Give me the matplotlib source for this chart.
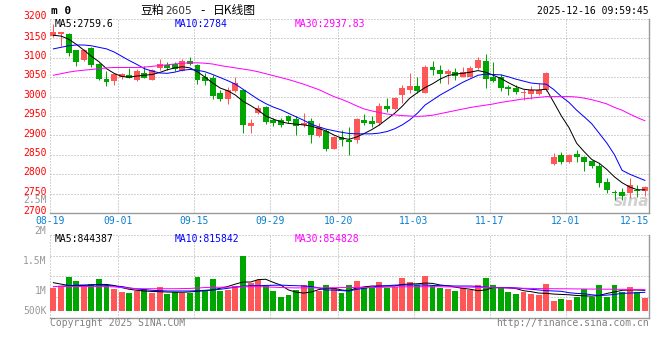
import matplotlib
matplotlib.use("Agg")
import matplotlib.pyplot as plt
from matplotlib.transforms import blended_transform_factory, offset_copy
import numpy as np

W, H = 660, 360

# ---------------- data ----------------
dates = ["08-19", "08-20", "08-21", "08-22", "08-25", "08-26", "08-27", "08-28", "08-29",
         "09-01", "09-02", "09-03", "09-04", "09-05", "09-08", "09-09", "09-10", "09-11", "09-12",
         "09-15", "09-16", "09-17", "09-18", "09-19", "09-22", "09-23", "09-24", "09-25", "09-26",
         "09-29", "09-30", "10-09", "10-10", "10-13", "10-14", "10-15", "10-16", "10-17",
         "10-20", "10-21", "10-22", "10-23", "10-24", "10-27", "10-28", "10-29", "10-30", "10-31",
         "11-03", "11-04", "11-05", "11-06", "11-07", "11-10", "11-11", "11-12", "11-13", "11-14",
         "11-17", "11-18", "11-19", "11-20", "11-21", "11-24", "11-25", "11-26", "11-27", "11-28",
         "12-01", "12-02", "12-03", "12-04", "12-05", "12-08", "12-09", "12-10", "12-11", "12-12",
         "12-15"]

opens = [3156, 3161, 3161, 3120, 3094, 3126, 3083, 3045, 3041, 3050,
         3055, 3044, 3062, 3044, 3073, 3081, 3084, 3067, 3092, 3081,
         3050, 3047, 3010, 2995, 3015, 3017, 2924, 2958, 2974, 2940,
         2940, 2950, 2941, 2928, 2937, 2899, 2911, 2865, 2897, 2888,
         2888, 2940, 2938, 2931, 2976, 2968, 3004, 3017, 3027, 3010,
         3077, 3069, 3058, 3063, 3051, 3051, 3073, 3092, 3051, 3051,
         3026, 3023, 3010, 3006, 3007, 3017, 2826, 2850, 2831, 2851,
         2845, 2834, 2822, 2781, 2755, 2753, 2752, 2759, 2756]
highs = [3188, 3167, 3163, 3121, 3122, 3129, 3086, 3067, 3061, 3062,
         3073, 3070, 3079, 3071, 3098, 3088, 3090, 3097, 3101, 3085,
         3060, 3055, 3017, 3026, 3050, 3019, 2941, 2978, 2976, 2946,
         2946, 2953, 2950, 2959, 2944, 2931, 2916, 2899, 2914, 2921,
         2944, 2955, 2950, 2983, 2996, 3000, 3030, 3060, 3051, 3081,
         3092, 3081, 3070, 3073, 3077, 3079, 3103, 3110, 3090, 3057,
         3030, 3030, 3019, 3028, 3034, 3064, 2854, 2858, 2852, 2862,
         2847, 2837, 2828, 2789, 2759, 2764, 2789, 2772, 2770]
lows = [3154, 3131, 3105, 3079, 3092, 3077, 3044, 3027, 3030, 3046,
        3047, 3040, 3047, 3042, 3069, 3068, 3065, 3065, 3082, 3032,
        3030, 2995, 2989, 2981, 3012, 2907, 2907, 2954, 2929, 2924,
        2921, 2931, 2901, 2921, 2881, 2895, 2861, 2864, 2873, 2850,
        2880, 2927, 2921, 2927, 2961, 2966, 2983, 3010, 3010, 3008,
        3056, 3034, 3032, 3043, 3051, 3050, 3070, 3021, 3038, 3014,
        3004, 3006, 2990, 2993, 3004, 3015, 2824, 2826, 2828, 2832,
        2809, 2816, 2768, 2752, 2734, 2734, 2738, 2742, 2744]
closes = [3166, 3166, 3113, 3090, 3120, 3081, 3045, 3038, 3057, 3058,
          3049, 3067, 3049, 3068, 3084, 3075, 3070, 3092, 3084, 3044,
          3041, 3001, 2993, 3017, 3036, 2927, 2933, 2970, 2935, 2931,
          2927, 2937, 2923, 2931, 2901, 2921, 2864, 2897, 2888, 2884,
          2941, 2931, 2929, 2976, 2968, 2996, 3021, 3027, 3014, 3077,
          3069, 3058, 3067, 3054, 3063, 3075, 3094, 3045, 3041, 3023,
          3019, 3013, 3013, 3017, 3017, 3060, 2845, 2832, 2850, 2845,
          2832, 2820, 2777, 2759, 2752, 2745, 2771, 2757, 2766]

ma5 = [3158, 3156, 3148, 3135, 3120, 3104, 3090, 3072, 3060, 3052,
       3050, 3053, 3055, 3057, 3062, 3069, 3074, 3077, 3074, 3064,
       3050, 3035, 3022, 3015, 3004, 2988, 2977, 2965, 2950, 2942,
       2935, 2931, 2929, 2927, 2924, 2918, 2911, 2901, 2893, 2890,
       2896, 2905, 2915, 2927, 2942, 2957, 2975, 2996, 3010, 3023,
       3033, 3045, 3054, 3058, 3060, 3063, 3067, 3063, 3055, 3047,
       3036, 3026, 3019, 3017, 3017, 3019, 2985, 2950, 2920, 2880,
       2858, 2838, 2828, 2812, 2793, 2778, 2767, 2760, 2759.6]
ma10 = [3123, 3127, 3131, 3133, 3133, 3131, 3127, 3123, 3115, 3104,
        3093, 3083, 3072, 3066, 3061, 3060, 3063, 3068, 3070, 3068,
        3064, 3057, 3049, 3041, 3032, 3019, 3006, 2993, 2982, 2973,
        2966, 2957, 2948, 2939, 2929, 2922, 2916, 2912, 2908, 2905,
        2904, 2904, 2904, 2906, 2910, 2917, 2927, 2940, 2957, 2978,
        2991, 3004, 3015, 3026, 3037, 3046, 3055, 3058, 3057, 3056,
        3051, 3045, 3040, 3035, 3033, 3032, 3018, 3000, 2985, 2965,
        2948, 2930, 2905, 2880, 2850, 2810, 2800, 2792, 2784]
ma30 = [3055, 3059, 3063, 3066, 3068, 3070, 3072, 3074, 3075, 3075,
        3075, 3075, 3076, 3078, 3080, 3082, 3084, 3086, 3087, 3087,
        3086, 3084, 3080, 3077, 3074, 3071, 3068, 3064, 3059, 3054,
        3049, 3044, 3038, 3032, 3025, 3018, 3009, 3000, 2993, 2985,
        2976, 2968, 2963, 2959, 2955, 2953, 2951, 2950, 2949, 2950,
        2952, 2956, 2960, 2964, 2968, 2972, 2975, 2978, 2981, 2985,
        2988, 2991, 2994, 2996, 2998, 3000, 3000, 3000, 3000, 2999,
        2996, 2992, 2987, 2981, 2972, 2965, 2955, 2946, 2937.83]

volumes = [878e3, 893e3, 1038e3, 980e3, 886e3, 936e3, 1009e3, 907e3, 864e3, 820e3,
           801e3, 835e3, 864e3, 810e3, 897e3, 791e3, 825e3, 810e3, 810e3, 1042e3,
           839e3, 1009e3, 839e3, 849e3, 912e3, 1342e3, 947e3, 994e3, 912e3, 839e3,
           752e3, 777e3, 849e3, 922e3, 980e3, 839e3, 922e3, 883e3, 810e3, 922e3,
           980e3, 883e3, 883e3, 961e3, 883e3, 889e3, 1028e3, 970e3, 922e3, 1057e3,
           912e3, 883e3, 864e3, 835e3, 883e3, 849e3, 922e3, 1028e3, 922e3, 883e3,
           825e3, 791e3, 825e3, 791e3, 777e3, 936e3, 690e3, 719e3, 704e3, 748e3,
           868e3, 748e3, 926e3, 748e3, 926e3, 820e3, 893e3, 820e3, 733e3]
vol_ma5 = [955e3, 935e3, 915e3, 912e3, 915e3, 922e3, 930e3, 930e3, 915e3, 885e3,
           860e3, 845e3, 835e3, 828e3, 825e3, 820e3, 818e3, 816e3, 822e3, 830e3,
           840e3, 850e3, 875e3, 900e3, 935e3, 965e3, 965e3, 1000e3, 1005e3, 960e3,
           920e3, 850e3, 818e3, 805e3, 820e3, 855e3, 874e3, 874e3, 850e3, 839e3,
           880e3, 895e3, 907e3, 907e3, 907e3, 907e3, 930e3, 936e3, 940e3, 950e3,
           945e3, 922e3, 910e3, 890e3, 874e3, 860e3, 839e3, 850e3, 885e3, 885e3,
           880e3, 870e3, 839e3, 825e3, 805e3, 801e3, 790e3, 785e3, 780e3, 770e3,
           765e3, 760e3, 770e3, 800e3, 820e3, 845e3, 850e3, 849e3, 844387]
vol_ma10 = [897e3, 905e3, 912e3, 920e3, 922e3, 922e3, 922e3, 915e3, 907e3, 900e3,
            880e3, 864e3, 855e3, 845e3, 840e3, 835e3, 835e3, 835e3, 835e3, 839e3,
            845e3, 850e3, 860e3, 874e3, 890e3, 905e3, 912e3, 912e3, 915e3, 918e3,
            920e3, 915e3, 912e3, 907e3, 900e3, 880e3, 849e3, 849e3, 840e3, 835e3,
            860e3, 874e3, 890e3, 907e3, 912e3, 920e3, 922e3, 922e3, 922e3, 922e3,
            915e3, 912e3, 912e3, 907e3, 907e3, 907e3, 900e3, 890e3, 885e3, 885e3,
            885e3, 880e3, 870e3, 860e3, 850e3, 840e3, 835e3, 830e3, 810e3, 800e3,
            795e3, 780e3, 770e3, 775e3, 785e3, 800e3, 805e3, 810e3, 815842]
vol_ma30 = [900e3, 900e3, 900e3, 900e3, 900e3, 900e3, 900e3, 898e3, 895e3, 885e3,
            875e3, 870e3, 868e3, 868e3, 868e3, 868e3, 868e3, 870e3, 872e3, 878e3,
            885e3, 888e3, 890e3, 890e3, 892e3, 895e3, 897e3, 897e3, 895e3, 890e3,
            885e3, 882e3, 880e3, 880e3, 880e3, 880e3, 880e3, 882e3, 885e3, 885e3,
            885e3, 885e3, 886e3, 888e3, 890e3, 893e3, 895e3, 896e3, 897e3, 897e3,
            897e3, 896e3, 895e3, 894e3, 893e3, 891e3, 888e3, 885e3, 882e3, 880e3,
            878e3, 876e3, 874e3, 872e3, 870e3, 869e3, 868e3, 867e3, 866e3, 865e3,
            864e3, 863e3, 862e3, 861e3, 860e3, 859e3, 857e3, 856e3, 854828]

tick_labels = ["08-19", "09-01", "09-15", "09-29", "10-20", "11-03", "11-17", "12-01", "12-15"]
price_ticks = [3200, 3150, 3100, 3050, 3000, 2950, 2900, 2850, 2800, 2750, 2700]
vol_tick_labels = ["2.5M", "2M", "1.5M", "1M", "500K"]
price_legend = [("MA5:", "2759.6"), ("MA10:", "2784"), ("MA30:", "2937.83")]
vol_legend = [("MA5:", "844387"), ("MA10:", "815842"), ("MA30:", "854828")]
title_parts = ["豆粕", "2605", "-", "日K线图"]

# ---------------- style / layout ----------------
RED = "#ff5757"
GREEN = "#00a600"
GRID = "#a8a8a8"
BORDER = "#999999"
LABEL_RED = "#ff0000"
DATE_BLUE = "#0a7fd0"
GREY_TXT = "#999999"
MONO = "DejaVu Sans Mono"
CJK = ["Noto Sans CJK SC", "DejaVu Sans"]
FS = 7.0
MA_COLORS = ["#000000", "#0000ff", "#ff00ff"]
LEG_X = [55, 175, 295]
VOL_LABEL_Y = [200.3, 230.8, 261.3, 291, 311]
DATE_Y = 221.2
VOL_FLOOR = 545000
DOT = (0, (1, 2))
LW1 = 0.72  # ~1px


def fx(xp):
    return xp / W


def fy(yp):
    return 1 - yp / H


fig = plt.figure(figsize=(W / 100, H / 100), dpi=100)
fig.patch.set_facecolor("white")

L, R = 50, 649
ax = fig.add_axes([fx(L), fy(213), (R - L) / W, (213 - 19) / H])
axv = fig.add_axes([fx(L), fy(318), (R - L) / W, (318 - 234.7) / H])

n = len(closes)
x = np.arange(n) + 0.45
o = np.array(opens, float)
c = np.array(closes, float)
hi = np.array(highs, float)
lo = np.array(lows, float)
up = c >= o
cols = np.where(up, RED, GREEN)

for a in (ax, axv):
    a.set_xlim(0, n)
    a.set_xticks([])
    a.set_yticks([])
    a.set_facecolor("white")
    for s in ("top", "left"):
        a.spines[s].set_visible(False)
    for s in ("right", "bottom"):
        a.spines[s].set_color(BORDER)
        a.spines[s].set_linewidth(1.0)

ax.set_ylim(price_ticks[-1], price_ticks[0])
axv.set_ylim(443350, 1651200)

# grid lines
tick_idx = [dates.index(t) for t in tick_labels]
for a in (ax, axv):
    for k in tick_idx:
        if k < n - 1:
            a.axvline(k, color=GRID, lw=LW1, ls=DOT, zorder=0.5, clip_on=False)
for p in price_ticks[:-1]:
    ax.axhline(p, color=GRID, lw=LW1, ls=DOT, zorder=0.5, clip_on=False)
for f in (0.25, 0.5, 0.75, 1.0):
    axv.plot([0, 1], [f, f], transform=axv.transAxes, color=GRID, lw=LW1, ls=DOT,
             zorder=0.5, clip_on=False)

# sina watermark
ax.text(1.0, 0.02, "sina", transform=ax.transAxes, ha="right", va="bottom",
        fontsize=11, fontweight="bold", style="italic", color="#d0d0d0", zorder=0.8)

# candles
ax.vlines(x, lo, hi, colors=cols, lw=LW1, zorder=2)
body = np.maximum(np.abs(c - o), 1.6)
ax.bar(x, body, bottom=np.minimum(o, c), width=0.78, color=cols, linewidth=0, zorder=3)

# price MAs
for arr, col in zip((ma5, ma10, ma30), MA_COLORS):
    ax.plot(x, arr, color=col, lw=LW1, zorder=4)

# volume
vol = np.array(volumes)
axv.bar(x, vol - VOL_FLOOR, bottom=VOL_FLOOR, width=0.78, color=cols, linewidth=0, zorder=2)
for arr, col in zip((vol_ma5, vol_ma10, vol_ma30), MA_COLORS):
    axv.plot(x, arr, color=col, lw=LW1, zorder=4)

# price labels (left), y in price units
tr_p = blended_transform_factory(fig.transFigure, ax.transData)
tr_p1 = offset_copy(tr_p, fig=fig, y=1.8, units="dots")
tr_p2 = offset_copy(tr_p, fig=fig, y=3.0, units="dots")
for p in price_ticks:
    fig.text(fx(46.5), p, str(p), transform=tr_p2 if p == price_ticks[0] else tr_p1,
             ha="right", va="center", fontsize=FS, family=MONO, color=LABEL_RED)

# volume labels
for lab, yy in zip(vol_tick_labels, VOL_LABEL_Y):
    fig.text(fx(46.5), fy(yy), lab, ha="right", va="center", fontsize=FS,
             family=MONO, color=GREY_TXT)

# date labels
tr_x = blended_transform_factory(ax.transData, fig.transFigure)
for lab, k in zip(tick_labels, tick_idx):
    if k == n - 1:
        ax.text(n, fy(DATE_Y), lab, transform=tr_x, ha="right", va="center",
                fontsize=FS, family=MONO, color=DATE_BLUE, clip_on=False)
    else:
        ax.text(k, fy(DATE_Y), lab, transform=tr_x, ha="center", va="center",
                fontsize=FS, family=MONO, color=DATE_BLUE, clip_on=False)

# legends
for (name, val), xx, col in zip(price_legend, LEG_X, MA_COLORS):
    fig.text(fx(xx), fy(23.7), name + val, ha="left", va="center", fontsize=FS,
             family=MONO, color=col)
for (name, val), xx, col in zip(vol_legend, LEG_X, MA_COLORS):
    fig.text(fx(xx), fy(239.5), name + val, ha="left", va="center", fontsize=FS,
             family=MONO, color=col)

# header
fig.text(fx(51), fy(11.5), "m 0", ha="left", va="center", fontsize=8, family=MONO,
         fontweight="bold", color="black")
fig.text(fx(140), fy(10.5), title_parts[0], ha="left", va="center", fontsize=8.5,
         family=CJK, color="black")
fig.text(fx(165.5), fy(11), title_parts[1], ha="left", va="center", fontsize=7.6,
         family="DejaVu Sans", color="#333333")
fig.text(fx(202.5), fy(10.5), title_parts[2], ha="center", va="center", fontsize=8.5,
         family="DejaVu Sans", color="black")
fig.text(fx(212.5), fy(10.5), title_parts[3], ha="left", va="center", fontsize=8.5,
         family=CJK, color="black")
fig.text(fx(649), fy(11.5), "2025-12-16 09:59:45", ha="right", va="center", fontsize=FS,
         family=MONO, color="black")

# footer
fig.text(fx(50), fy(323.5), "Copyright 2025 SINA.COM", ha="left", va="center", fontsize=FS,
         family=MONO, color="#808080")
fig.text(fx(649), fy(323.5), "http://finance.sina.com.cn", ha="right", va="center",
         fontsize=FS, family=MONO, color="#808080")

fig.savefig("out.png", dpi=100, facecolor="white")
